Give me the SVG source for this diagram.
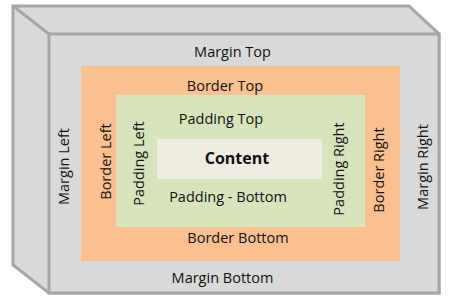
<svg xmlns="http://www.w3.org/2000/svg" width="459" height="307" viewBox="0 0 459 307">
<style>
text{font-family:"Open Sans","Liberation Sans",sans-serif;font-size:14.5px;fill:#111;text-anchor:middle}
.b{font-weight:bold;font-size:16px}
.box{stroke:#a6a6a6;stroke-width:3;fill:#d9d9d9;stroke-linejoin:miter}
</style>
<g id="margin">
<polygon class="box" points="13,6 409,6 439,34 439,293 49,293 13,265"/>
<line class="box" x1="13" y1="6" x2="49" y2="34"/>
<rect class="box" x="49" y="34" width="390" height="259"/>
<text x="232.5" y="56.7">Margin Top</text>
<text x="222.5" y="282.7">Margin Bottom</text>
<text transform="translate(68.5,166.5) rotate(-90)">Margin Left</text>
<text transform="translate(428,167) rotate(-90)">Margin Right</text>
</g>
<g id="border">
<rect x="81" y="66" width="319" height="195" fill="#fac090"/>
<text x="225" y="90.7">Border Top</text>
<text x="238" y="242.7">Border Bottom</text>
<text transform="translate(110.5,161.5) rotate(-90)">Border Left</text>
<text transform="translate(383.5,170) rotate(-90)">Border Right</text>
</g>
<g id="padding">
<rect x="116" y="95" width="249" height="132" fill="#d8e4bc"/>
<text x="221" y="124.3">Padding Top</text>
<text x="228" y="201.7">Padding - Bottom</text>
<text transform="translate(143.5,163.5) rotate(-90)">Padding Left</text>
<text transform="translate(344,169) rotate(-90)">Padding Right</text>
</g>
<g id="content">
<rect x="157" y="139" width="165" height="40" fill="#eeece1"/>
<text class="b" x="237" y="164">Content</text>
</g>
</svg>
